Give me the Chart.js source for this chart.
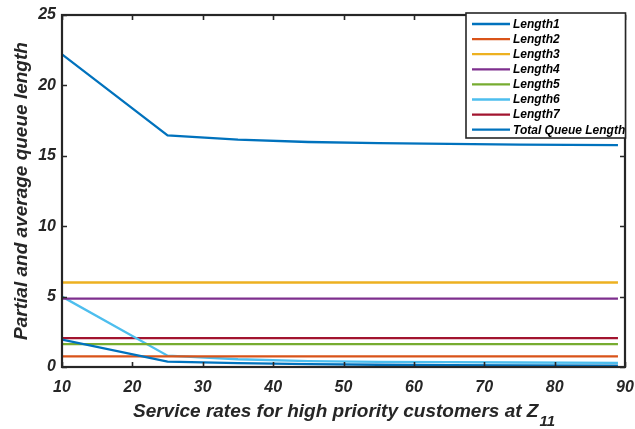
<!DOCTYPE html>
<html>
<head>
<meta charset="utf-8">
<script src="https://cdn.jsdelivr.net/npm/chart.js@4/dist/chart.umd.min.js"></script>
<style>
  html, body { margin: 0; padding: 0; background: #ffffff; }
  #wrap { width: 635px; height: 429px; position: relative; }
</style>
</head>
<body>
<div id="wrap"><canvas id="c" width="635" height="429"></canvas></div>
<script>
// Service rates (x) and queue lengths per series
const rates   = [10, 25, 35, 45, 55, 65, 75, 89];
const length1 = [1.95, 0.38, 0.28, 0.20, 0.16, 0.14, 0.12, 0.10];
const length2 = [0.75, 0.75, 0.75, 0.75, 0.75, 0.75, 0.75, 0.75];
const length3 = [6.00, 6.00, 6.00, 6.00, 6.00, 6.00, 6.00, 6.00];
const length4 = [4.85, 4.85, 4.85, 4.85, 4.85, 4.85, 4.85, 4.85];
const length5 = [1.62, 1.62, 1.62, 1.62, 1.62, 1.62, 1.62, 1.62];
const length6 = [5.00, 0.80, 0.55, 0.42, 0.37, 0.34, 0.32, 0.30];
const length7 = [2.05, 2.05, 2.05, 2.05, 2.05, 2.05, 2.05, 2.05];
const totalLength = [22.2, 16.45, 16.15, 15.98, 15.90, 15.84, 15.80, 15.76];

const seriesNames = ['Length1', 'Length2', 'Length3', 'Length4', 'Length5', 'Length6', 'Length7', 'Total Queue Length'];
const seriesColors = ['#0072BD', '#D95319', '#EDB120', '#7E2F8E', '#77AC30', '#4DBEEE', '#A2142F', '#0072BD'];
const seriesValues = [length1, length2, length3, length4, length5, length6, length7, totalLength];

const xTicks = [10, 20, 30, 40, 50, 60, 70, 80, 90];
const yTicks = [0, 5, 10, 15, 20, 25];

const FONT = "'Liberation Sans', Arial, Helvetica, sans-serif";
const AXIS_COLOR = '#262626';

const datasets = seriesNames.map((name, i) => ({
  label: name,
  data: rates.map((r, k) => ({ x: r, y: seriesValues[i][k] })),
  borderColor: seriesColors[i],
  backgroundColor: seriesColors[i],
  borderWidth: 2.3,
  pointRadius: 0,
  tension: 0,
  fill: false
}));

// Box frame, inward ticks, subscripted x title and legend
const framePlugin = {
  id: 'frame',
  afterDraw(chart) {
    const ctx = chart.ctx;
    const a = chart.chartArea;
    const xs = chart.scales.x, ys = chart.scales.y;
    ctx.save();
    ctx.strokeStyle = AXIS_COLOR;
    ctx.lineWidth = 2.2;
    ctx.strokeRect(a.left, a.top, a.right - a.left, a.bottom - a.top);
    const tl = 5;
    ctx.beginPath();
    xTicks.forEach(v => {
      const px = Math.round(xs.getPixelForValue(v)) + 0.5;
      ctx.moveTo(px, a.bottom); ctx.lineTo(px, a.bottom - tl);
      ctx.moveTo(px, a.top); ctx.lineTo(px, a.top + tl);
    });
    yTicks.forEach(v => {
      const py = Math.round(ys.getPixelForValue(v)) + 0.5;
      ctx.moveTo(a.left, py); ctx.lineTo(a.left + tl, py);
      ctx.moveTo(a.right, py); ctx.lineTo(a.right - tl, py);
    });
    ctx.lineWidth = 1.6;
    ctx.stroke();

    // x-axis title with subscript
    const mainText = 'Service rates for high priority customers at Z';
    const subText = '11';
    ctx.fillStyle = AXIS_COLOR;
    ctx.textBaseline = 'alphabetic';
    ctx.font = 'italic bold 19px ' + FONT;
    const w1 = ctx.measureText(mainText).width;
    ctx.font = 'italic bold 15px ' + FONT;
    const w2 = ctx.measureText(subText).width;
    const cx = (a.left + a.right) / 2;
    const startX = cx - (w1 + w2) / 2;
    ctx.font = 'italic bold 19px ' + FONT;
    ctx.textAlign = 'left';
    ctx.fillText(mainText, startX, 417);
    ctx.font = 'italic bold 15px ' + FONT;
    ctx.fillText(subText, startX + w1 + 1, 426);

    // legend
    const lx = 466, ly = 13, lw = 159.5, lh = 125;
    ctx.fillStyle = '#ffffff';
    ctx.fillRect(lx, ly, lw, lh);
    ctx.strokeStyle = AXIS_COLOR;
    ctx.lineWidth = 1.6;
    ctx.strokeRect(lx, ly, lw, lh);
    ctx.font = 'italic bold 12px ' + FONT;
    ctx.textBaseline = 'middle';
    chart.data.datasets.forEach((ds, i) => {
      const y = 24 + i * 15.1;
      ctx.strokeStyle = ds.borderColor;
      ctx.lineWidth = 2.3;
      ctx.beginPath();
      ctx.moveTo(472, y); ctx.lineTo(510, y);
      ctx.stroke();
      ctx.fillStyle = '#000000';
      ctx.fillText(ds.label, 513, y + 0.5);
    });
    ctx.restore();
  }
};

new Chart(document.getElementById('c'), {
  type: 'line',
  data: { datasets },
  options: {
    responsive: false,
    animation: false,
    events: [],
    layout: { padding: { top: 15, right: 10, left: 0, bottom: 0 } },
    plugins: {
      legend: { display: false },
      tooltip: { enabled: false }
    },
    scales: {
      x: {
        type: 'linear',
        min: 10, max: 90,
        afterBuildTicks: s => { s.ticks = xTicks.map(v => ({ value: v })); },
        afterFit: s => { s.height = 62; s.paddingLeft = 0; s.paddingRight = 0; },
        grid: { display: false, drawTicks: false },
        border: { display: false },
        ticks: {
          color: AXIS_COLOR,
          padding: 11,
          maxRotation: 0,
          autoSkip: false,
          font: { family: FONT, size: 16, style: 'italic', weight: 'bold' }
        },
        title: { display: false }
      },
      y: {
        type: 'linear',
        min: 0, max: 25,
        afterBuildTicks: s => { s.ticks = yTicks.map(v => ({ value: v })); },
        afterFit: s => { s.width = 62; s.paddingTop = 0; s.paddingBottom = 0; },
        grid: { display: false, drawTicks: false },
        border: { display: false },
        ticks: {
          color: AXIS_COLOR,
          padding: 6,
          autoSkip: false,
          font: { family: FONT, size: 16, style: 'italic', weight: 'bold' }
        },
        title: {
          display: true,
          text: 'Partial and average queue length',
          color: AXIS_COLOR,
          padding: { top: 10, bottom: 0 },
          font: { family: FONT, size: 19, style: 'italic', weight: 'bold' }
        }
      }
    }
  },
  plugins: [framePlugin]
});
</script>
</body>
</html>
